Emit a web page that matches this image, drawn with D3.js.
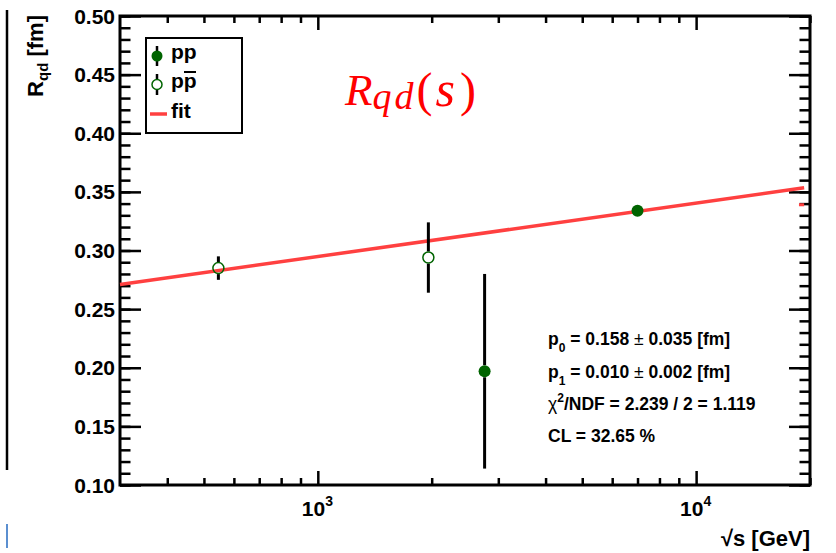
<!DOCTYPE html>
<html>
<head>
<meta charset="utf-8">
<script src="https://cdn.jsdelivr.net/npm/d3@7"></script>
<style>
  body { margin: 0; background: #fff; }
  svg { display: block; }
  text { font-family: "Liberation Sans", Arial, sans-serif; }
</style>
</head>
<body>
<svg id="chart" width="836" height="553"></svg>
<script>
"use strict";

// values
var ppX = [2760, 7000];
var ppY = [0.197, 0.334];
var ppErr = [0.083, 0.003];

var pbarX = [546, 1960];
var pbarY = [0.285, 0.294];
var pbarErr = [0.010, 0.030];

// fit line end points (straight on log x)
var fitX = [300, 19300];
var fitY = [0.271, 0.3535];

var xMajor = [1000, 10000];
var xMajorLabel = ["3", "4"];
var xMinor = [400, 500, 600, 700, 800, 900, 2000, 3000, 4000, 5000, 6000, 7000, 8000, 9000, 20000];
var yMajor = [0.10, 0.15, 0.20, 0.25, 0.30, 0.35, 0.40, 0.45, 0.50];
var yMinor = d3.range(10, 51).map(function(d) { return d / 100 });

var statLines = [
  ["p", "0", " = 0.158 ", "\u00b1", " 0.035 [fm]"],
  ["p", "1", " = 0.010 ", "\u00b1", " 0.002 [fm]"]
];

var green = "#006400";
var red = "#ff4040";

var svg = d3.select("#chart");
var frameL = 120, frameR = 810, frameT = 16, frameB = 485;

var x = d3.scaleLog().domain([300, 20000]).range([frameL, frameR]);
var y = d3.scaleLinear().domain([0.10, 0.50]).range([frameB, frameT]);

// stray lines at the left border of the picture
svg.append("line").attr("x1", 7).attr("x2", 7).attr("y1", 10).attr("y2", 470)
  .attr("stroke", "#000").attr("stroke-width", 2.5);
svg.append("line").attr("x1", 7).attr("x2", 7).attr("y1", 524).attr("y2", 548)
  .attr("stroke", "#5b8fd0").attr("stroke-width", 2);

function tickAxis(axis, tx, ty) {
  var g = svg.append("g").attr("transform", "translate(" + tx + "," + ty + ")").call(axis);
  g.select(".domain").remove();
  g.selectAll("text").remove();
  g.selectAll("line").attr("stroke", "#000").attr("stroke-width", 2.5);
  return g;
}

// ticks on all four sides
tickAxis(d3.axisBottom(x).tickValues(xMajor).tickSize(-14), 0, frameB);
tickAxis(d3.axisBottom(x).tickValues(xMinor).tickSize(-7), 0, frameB);
tickAxis(d3.axisTop(x).tickValues(xMajor).tickSize(-14), 0, frameT);
tickAxis(d3.axisTop(x).tickValues(xMinor).tickSize(-7), 0, frameT);
tickAxis(d3.axisLeft(y).tickValues(yMajor).tickSize(-21), frameL, 0);
tickAxis(d3.axisLeft(y).tickValues(yMinor).tickSize(-10.5), frameL, 0);
tickAxis(d3.axisRight(y).tickValues(yMajor).tickSize(-21), frameR, 0);
tickAxis(d3.axisRight(y).tickValues(yMinor).tickSize(-10.5), frameR, 0);

svg.append("rect")
  .attr("x", frameL).attr("y", frameT)
  .attr("width", frameR - frameL).attr("height", frameB - frameT)
  .attr("fill", "none").attr("stroke", "#000").attr("stroke-width", 3);

// y tick labels
svg.append("g").selectAll("text")
  .data(yMajor)
  .enter()
  .append("text")
    .attr("x", frameL - 5)
    .attr("y", function(d) { return y(d) })
    .attr("dy", "0.36em")
    .attr("text-anchor", "end")
    .style("font-size", "21px")
    .style("font-weight", "bold")
    .text(function(d) { return d.toFixed(2) });

// x tick labels 10^n
var xl = svg.append("g").selectAll("text")
  .data(xMajor)
  .enter()
  .append("text")
    .attr("x", function(d) { return x(d) - 16 })
    .attr("y", 516)
    .style("font-size", "21px")
    .style("font-weight", "bold");
xl.append("tspan").text("10");
xl.append("tspan")
  .attr("dy", -10)
  .style("font-size", "14px")
  .text(function(d, i) { return xMajorLabel[i] });

// axis titles
svg.append("text")
  .attr("x", frameR).attr("y", 546)
  .attr("text-anchor", "end")
  .style("font-size", "22px").style("font-weight", "bold")
  .text("\u221as [GeV]");

var yt = svg.append("text")
  .attr("transform", "translate(43,15) rotate(-90)")
  .attr("text-anchor", "end")
  .style("font-size", "22px").style("font-weight", "bold");
yt.append("tspan").text("R");
yt.append("tspan").attr("dy", 5).style("font-size", "15px").text("qd");
yt.append("tspan").attr("dy", -5).text(" [fm]");

// fit line
svg.append("path")
  .datum(d3.zip(fitX, fitY))
  .attr("d", d3.line().x(function(d) { return x(d[0]) }).y(function(d) { return y(d[1]) }))
  .attr("fill", "none").attr("stroke", red).attr("stroke-width", 3.5);
// small red leftover near the right border
svg.append("line")
  .attr("x1", x(18700)).attr("x2", x(19300))
  .attr("y1", y(0.339)).attr("y2", y(0.339))
  .attr("stroke", red).attr("stroke-width", 3);

var r = 6;

function errorBars(xs, ys, errs) {
  var g = svg.append("g");
  xs.forEach(function(xv, i) {
    var cx = x(xv), cy = y(ys[i]);
    var yHi = y(ys[i] + errs[i]), yLo = y(ys[i] - errs[i]);
    if (yHi < cy - r) {
      g.append("line").attr("x1", cx).attr("x2", cx).attr("y1", yHi).attr("y2", cy - r);
    }
    if (yLo > cy + r) {
      g.append("line").attr("x1", cx).attr("x2", cx).attr("y1", cy + r).attr("y2", yLo);
    }
  });
  g.selectAll("line").attr("stroke", "#000").attr("stroke-width", 3);
}

errorBars(pbarX, pbarY, pbarErr);
errorBars(ppX, ppY, ppErr);

svg.append("g").selectAll("circle")
  .data(d3.zip(pbarX, pbarY))
  .enter()
  .append("circle")
    .attr("cx", function(d) { return x(d[0]) })
    .attr("cy", function(d) { return y(d[1]) })
    .attr("r", r - 0.5)
    .attr("fill", "none")
    .attr("stroke", green)
    .attr("stroke-width", 1.5);

svg.append("g").selectAll("circle")
  .data(d3.zip(ppX, ppY))
  .enter()
  .append("circle")
    .attr("cx", function(d) { return x(d[0]) })
    .attr("cy", function(d) { return y(d[1]) })
    .attr("r", r)
    .attr("fill", green);

// legend
var lg = svg.append("g");
lg.append("rect")
  .attr("x", 146).attr("y", 38).attr("width", 96).attr("height", 95)
  .attr("fill", "#fff").attr("stroke", "#000").attr("stroke-width", 2);
lg.append("line").attr("x1", 157).attr("x2", 157).attr("y1", 46).attr("y2", 66)
  .attr("stroke", "#000").attr("stroke-width", 2.5);
lg.append("circle").attr("cx", 157).attr("cy", 56).attr("r", 5.5).attr("fill", green);
lg.append("line").attr("x1", 157).attr("x2", 157).attr("y1", 74).attr("y2", 79)
  .attr("stroke", "#000").attr("stroke-width", 2.5);
lg.append("line").attr("x1", 157).attr("x2", 157).attr("y1", 90).attr("y2", 95)
  .attr("stroke", "#000").attr("stroke-width", 2.5);
lg.append("circle").attr("cx", 157).attr("cy", 84.5).attr("r", 5)
  .attr("fill", "none").attr("stroke", green).attr("stroke-width", 1.5);
lg.append("line").attr("x1", 150).attr("x2", 167).attr("y1", 114).attr("y2", 114)
  .attr("stroke", red).attr("stroke-width", 3.5);
lg.append("text").attr("x", 171).attr("y", 59)
  .style("font-size", "21px").style("font-weight", "bold").text("pp");
lg.append("text").attr("x", 171).attr("y", 88)
  .style("font-size", "21px").style("font-weight", "bold").text("pp");
lg.append("line").attr("x1", 184).attr("x2", 196).attr("y1", 72).attr("y2", 72)
  .attr("stroke", "#000").attr("stroke-width", 2);
lg.append("text").attr("x", 171).attr("y", 118)
  .style("font-size", "21px").style("font-weight", "bold").text("fit");

// formula title
var tt = svg.append("text")
  .attr("x", 345).attr("y", 105)
  .attr("fill", "#ff0000")
  .style("font-family", "'Liberation Serif', 'DejaVu Serif', serif")
  .style("font-size", "45px");
tt.append("tspan").style("font-style", "italic").text("R");
tt.append("tspan").attr("dy", 4).style("font-style", "italic")
  .style("font-size", "38px").style("letter-spacing", "3px").text("qd");
tt.append("tspan").attr("dx", 0).attr("dy", -3).style("font-size", "48px").text("(");
tt.append("tspan").attr("dx", 3).style("font-style", "italic").style("font-size", "50px").text("s");
tt.append("tspan").attr("dx", 5).style("font-size", "48px").text(")");

// fit statistics
var st = svg.append("g").style("font-size", "17.5px").style("font-weight", "bold");
statLines.forEach(function(parts, i) {
  var t = st.append("text").attr("x", 548).attr("y", 345 + i * 32.5);
  t.append("tspan").text(parts[0]);
  t.append("tspan").attr("dy", 7).style("font-size", "12px").text(parts[1]);
  t.append("tspan").attr("dy", -7).text(parts[2]);
  t.append("tspan").style("font-weight", "normal").text(parts[3]);
  t.append("tspan").text(parts[4]);
});
var chi = st.append("text").attr("x", 548).attr("y", 410);
chi.append("tspan").style("font-weight", "normal").text("\u03c7");
chi.append("tspan").attr("dy", -8).style("font-size", "12px").text("2");
chi.append("tspan").attr("dy", 8).text("/NDF = 2.239 / 2 = 1.119");
st.append("text").attr("x", 548).attr("y", 442).text("CL = 32.65 %");
</script>
</body>
</html>
